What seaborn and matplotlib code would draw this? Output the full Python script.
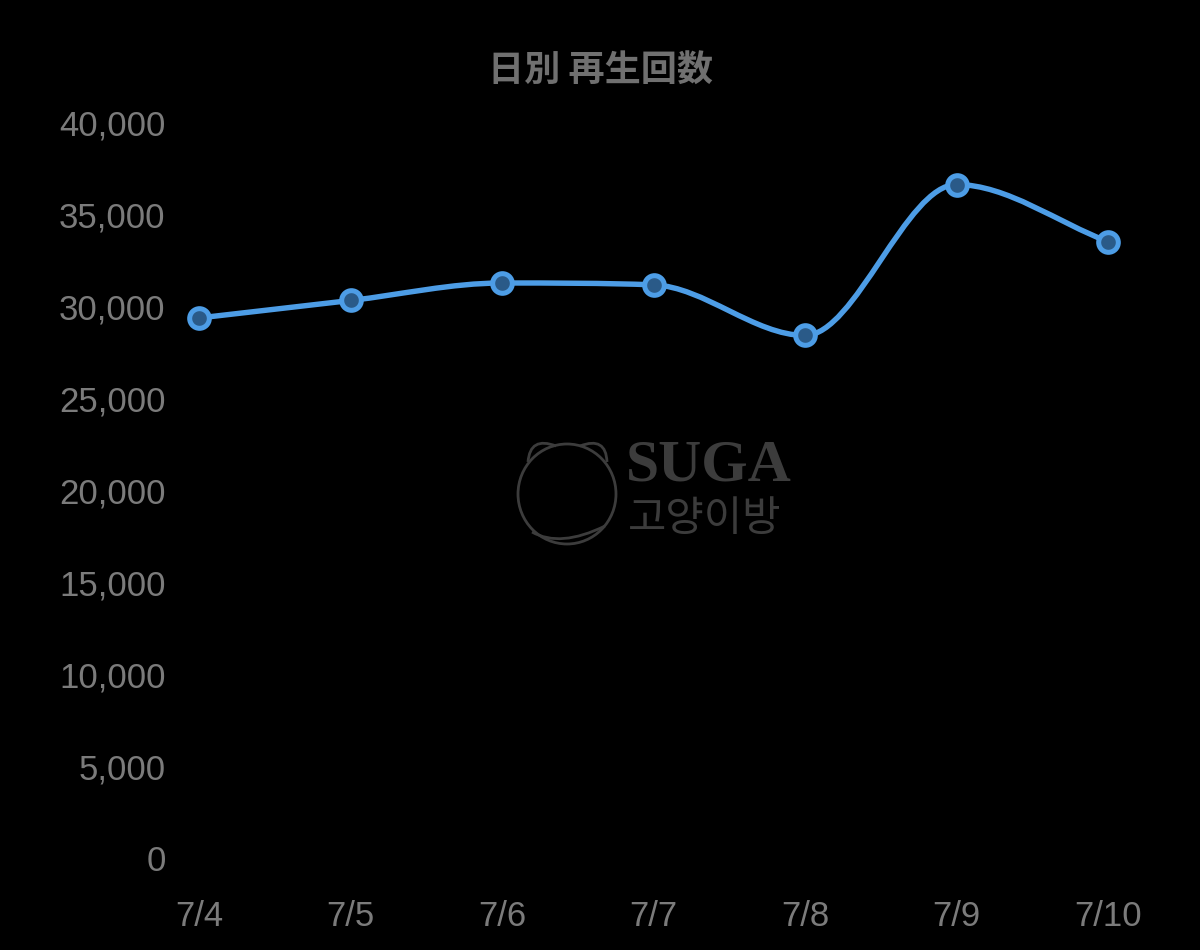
import numpy as np
import pandas as pd
import seaborn as sns
import matplotlib.pyplot as plt
from matplotlib.path import Path
from matplotlib.patches import PathPatch, Ellipse
from matplotlib.ticker import FuncFormatter

# 데이터
dates = ["7/4", "7/5", "7/6", "7/7", "7/8", "7/9", "7/10"]
plays = [29350, 30300, 31250, 31150, 28400, 36600, 33500]
y_ticks = [0, 5000, 10000, 15000, 20000, 25000, 30000, 35000, 40000]
title_text = "日別 再生回数"
mark_en = "SUGA"
mark_ko = "고양이방"

LINE = "#4d9de6"
FACE = "#2a5a88"
TICK = "#7b7b7b"
TITLE = "#707070"
MARK = "#3c3c3c"

sns.set_theme(style="dark")
plt.rcParams["font.family"] = ["Liberation Sans", "Noto Sans CJK JP", "DejaVu Sans"]

df = pd.DataFrame({"idx": np.arange(len(dates)), "plays": plays})

fig = plt.figure(figsize=(12, 9.5), dpi=100, facecolor="black")
W, H = 1200, 950
ax = fig.add_axes([199 / W, (H - 858) / H, (1108 - 199) / W, (858 - 122) / H])
ax.set_facecolor("black")
ax.set_xlim(0, len(dates) - 1)
ax.set_ylim(0, 40000)
for s in ax.spines.values():
    s.set_visible(False)
ax.grid(False)

# 단조 3차 보간 곡선 (Chart.js monotone 방식의 베지어 제어점)
pts = ax.transData.transform(np.column_stack([df["idx"], df["plays"]]))
n = len(pts)
dx = np.diff(pts[:, 0])
dk = np.diff(pts[:, 1]) / dx
mk = np.zeros(n)
mk[0], mk[-1] = dk[0], dk[-1]
for i in range(1, n - 1):
    if dk[i - 1] * dk[i] <= 0:
        mk[i] = 0
    else:
        mk[i] = (dk[i - 1] + dk[i]) / 2
for i in range(n - 1):
    if dk[i] == 0:
        mk[i] = mk[i + 1] = 0
        continue
    a, b = mk[i] / dk[i], mk[i + 1] / dk[i]
    tau = a * a + b * b
    if tau > 9:
        k = 3 / np.sqrt(tau)
        mk[i], mk[i + 1] = a * k * dk[i], b * k * dk[i]
inv = ax.transData.inverted()
verts = [tuple(inv.transform(pts[0]))]
codes = [Path.MOVETO]
for i in range(n - 1):
    d = dx[i] / 3
    c1 = pts[i] + np.array([d, mk[i] * d])
    c2 = pts[i + 1] - np.array([d, mk[i + 1] * d])
    verts += [tuple(inv.transform(c1)), tuple(inv.transform(c2)), tuple(inv.transform(pts[i + 1]))]
    codes += [Path.CURVE4] * 3
ax.add_patch(PathPatch(Path(verts, codes), facecolor="none", edgecolor=LINE,
                       lw=3.9, capstyle="round", joinstyle="round", zorder=3, clip_on=False))

sns.scatterplot(data=df, x="idx", y="plays", ax=ax, s=200, color=FACE,
                edgecolor=LINE, linewidth=3.6, zorder=4, clip_on=False, legend=False)

ax.set_xticks(df["idx"])
ax.set_xticklabels(dates)
ax.set_yticks(y_ticks)
ax.yaxis.set_major_formatter(FuncFormatter(lambda v, p: f"{int(v):,}"))
ax.tick_params(axis="y", length=0, pad=24, labelsize=25, labelcolor=TICK)
ax.tick_params(axis="x", length=0, pad=30, labelsize=25, labelcolor=TICK)
ax.set_xlabel("")
ax.set_ylabel("")

fig.text(0.5, (H - 70) / H, title_text, ha="center", va="center", fontsize=26,
         fontweight="bold", color=TITLE, family=["Noto Sans CJK JP", "DejaVu Sans"])

# 워터마크
fig.text(709 / W, (H - 467) / H, mark_en, ha="center", va="center", fontsize=43,
         fontweight="bold", color=MARK, family=["Liberation Serif"])
fig.text(705 / W, (H - 519) / H, mark_ko, ha="center", va="center", fontsize=30,
         fontweight="light", color=MARK, family=["Noto Sans CJK KR", "DejaVu Sans"])
tr = fig.dpi_scale_trans
def px(x, y):
    return (x / 100, (H - y) / 100)
fig.patches.append(Ellipse(px(567, 494), 98 / 100, 100 / 100, transform=tr,
                           fill=False, ec=MARK, lw=2))
ear_l = Path([px(528, 462), px(530, 436), px(556, 446)], [Path.MOVETO, Path.CURVE3, Path.CURVE3])
ear_r = Path([px(580, 446), px(606, 436), px(607, 462)], [Path.MOVETO, Path.CURVE3, Path.CURVE3])
for ear in (ear_l, ear_r):
    fig.patches.append(PathPatch(ear, transform=tr, fill=False, ec=MARK, lw=2))
tail = Path([px(532, 532), px(560, 548), px(605, 526)], [Path.MOVETO, Path.CURVE3, Path.CURVE3])
fig.patches.append(PathPatch(tail, transform=tr, fill=False, ec=MARK, lw=2))

fig.savefig("out.png", dpi=100, facecolor="black")
